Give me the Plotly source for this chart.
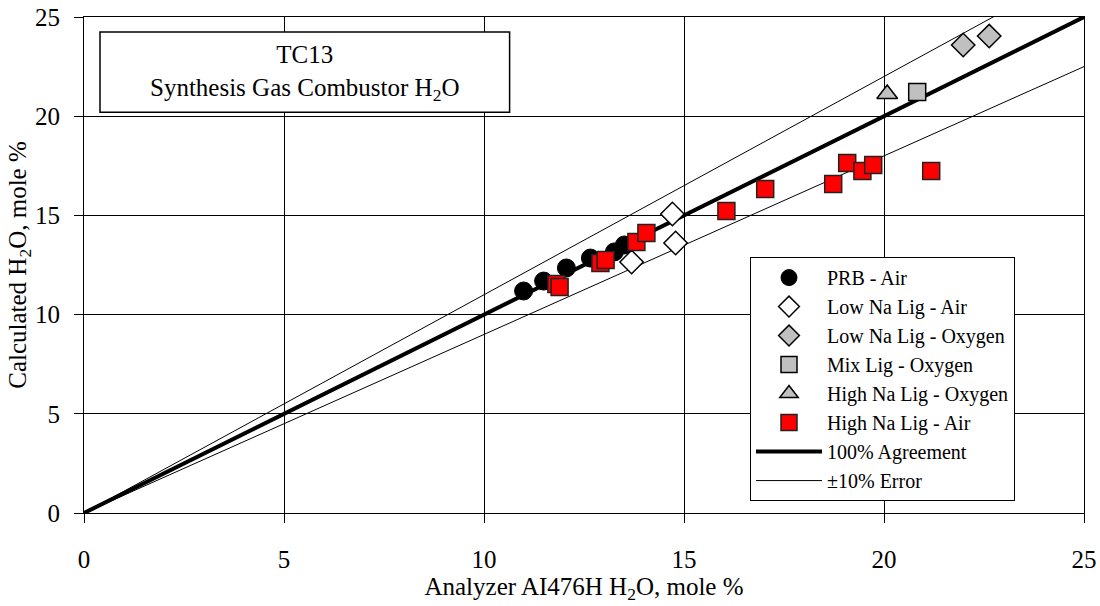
import plotly.graph_objects as go

prb_x = [10.99, 11.49, 12.06, 12.66, 13.26, 13.51]
prb_y = [11.19, 11.69, 12.35, 12.85, 13.16, 13.51]

lowna_air_x = [13.69, 14.71, 14.79]
lowna_air_y = [12.65, 15.07, 13.61]

lowna_o2_x = [21.98, 22.63]
lowna_o2_y = [23.59, 24.04]

mix_o2_x = [20.83]
mix_o2_y = [21.22]

highna_o2_x = [20.08]
highna_o2_y = [21.12]

highna_air_x = [11.81, 11.89, 12.91, 13.04, 13.81, 14.06, 16.06, 17.03, 18.73, 19.08, 19.46, 19.73, 21.18]
highna_air_y = [11.54, 11.39, 12.60, 12.75, 13.66, 14.11, 15.22, 16.33, 16.58, 17.64, 17.24, 17.54, 17.24]

line_x = [0, 25]
agree_factor = 1.0
err_factors = [1.1, 0.9]

FONT = "Times New Roman, Liberation Serif, serif"
FS = 25

fig = go.Figure()

fig.add_trace(go.Scatter(x=line_x, y=[v * agree_factor for v in line_x], mode="lines",
                         line=dict(color="black", width=4), name="100% Agreement", legendrank=7))
for i, f in enumerate(err_factors):
    fig.add_trace(go.Scatter(x=line_x, y=[v * f for v in line_x], mode="lines",
                             line=dict(color="black", width=1), name="±10% Error",
                             legendgroup="err", showlegend=(i == 0), legendrank=8))

fig.add_trace(go.Scatter(x=prb_x, y=prb_y, mode="markers", name="PRB - Air", legendrank=1,
                         marker=dict(symbol="circle", size=18, color="black", line=dict(color="black", width=1))))
fig.add_trace(go.Scatter(x=lowna_air_x, y=lowna_air_y, mode="markers", name="Low Na Lig - Air", legendrank=2,
                         marker=dict(symbol="diamond", size=18, color="white", line=dict(color="black", width=1.5))))
fig.add_trace(go.Scatter(x=lowna_o2_x, y=lowna_o2_y, mode="markers", name="Low Na Lig - Oxygen", legendrank=3,
                         marker=dict(symbol="diamond", size=18, color="#c0c0c0", line=dict(color="black", width=1.5))))
fig.add_trace(go.Scatter(x=mix_o2_x, y=mix_o2_y, mode="markers", name="Mix Lig - Oxygen", legendrank=4,
                         marker=dict(symbol="square", size=17, color="#c0c0c0", line=dict(color="black", width=1.5))))
fig.add_trace(go.Scatter(x=highna_o2_x, y=highna_o2_y, mode="markers", name="High Na Lig - Oxygen", legendrank=5,
                         marker=dict(symbol="triangle-up", size=18, color="#c0c0c0", line=dict(color="black", width=1.5))))
fig.add_trace(go.Scatter(x=highna_air_x, y=highna_air_y, mode="markers", name="High Na Lig - Air", legendrank=6,
                         marker=dict(symbol="square", size=17, color="red", line=dict(color="#222", width=1.5))))

axis_common = dict(range=[0, 25], dtick=5, showgrid=True, gridcolor="black", gridwidth=1,
                   showline=True, linecolor="black", linewidth=1, mirror=True,
                   ticks="outside", ticklen=9, tickcolor="black", zeroline=False, automargin=False,
                   tickfont=dict(family=FONT, size=FS, color="black"))

fig.update_xaxes(**axis_common, ticklabelstandoff=15,
                 title=dict(text="Analyzer AI476H H<sub>2</sub>O, mole %",
                            font=dict(family=FONT, size=FS, color="black"), standoff=5))
fig.update_yaxes(**axis_common, ticklabelstandoff=9,
                 title=dict(text="Calculated H<sub>2</sub>O, mole %",
                            font=dict(family=FONT, size=FS, color="black"), standoff=0))

fig.add_shape(type="rect", xref="paper", yref="paper", x0=0.016, x1=0.4256, y0=0.808, y1=0.970,
              line=dict(color="black", width=1.5), fillcolor="white", layer="above")
fig.add_annotation(xref="paper", yref="paper", x=0.2208, y=0.887, xanchor="center", yanchor="middle",
                   text="TC13<br>Synthesis Gas Combustor H<sub>2</sub>O", showarrow=False, align="center",
                   font=dict(family=FONT, size=FS, color="black"))

fig.update_layout(
    width=1100, height=606,
    margin=dict(l=84, r=16, t=17, b=93),
    plot_bgcolor="white", paper_bgcolor="white",
    font=dict(family=FONT, size=FS, color="black"),
    legend=dict(x=0.666, y=0.516, xanchor="left", yanchor="top", bgcolor="white",
                bordercolor="black", borderwidth=1, font=dict(family=FONT, size=20, color="black"),
                tracegroupgap=0, itemwidth=66),
    showlegend=True,
)

fig.write_html("out.html")
